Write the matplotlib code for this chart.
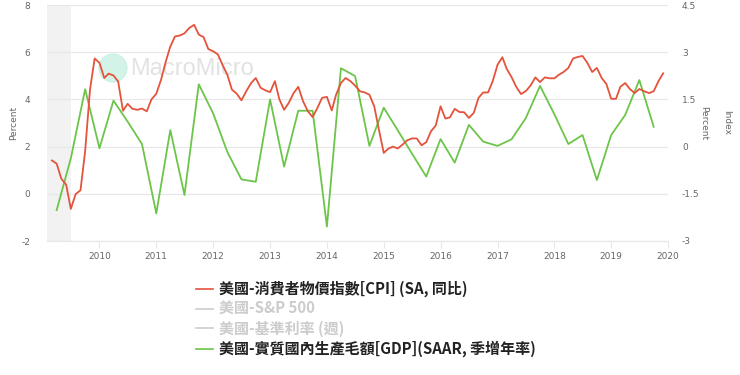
import matplotlib
matplotlib.use("Agg")
import matplotlib.pyplot as plt
import pandas as pd
from matplotlib.lines import Line2D
from matplotlib.patches import Circle

# 美國 CPI 年增率 (月, 2009-03 ~ 2019-12), 右軸
cpi = [-0.44, -0.54, -1.02, -1.21, -1.98, -1.51, -1.39, -0.15, 1.8, 2.8,
       2.66, 2.18, 2.32, 2.26, 2.07, 1.14, 1.36, 1.2, 1.17, 1.21, 1.12, 1.5,
       1.68, 2.13, 2.67, 3.18, 3.5, 3.53, 3.6, 3.77, 3.87, 3.56, 3.48, 3.1,
       3.03, 2.93, 2.6, 2.29, 1.81, 1.68, 1.47, 1.76, 2.02, 2.18, 1.87, 1.79,
       1.73, 2.08, 1.51, 1.17, 1.39, 1.7, 1.9, 1.44, 1.12, 0.94, 1.23, 1.55,
       1.58, 1.15, 1.65, 2.02, 2.18, 2.08, 1.94, 1.76, 1.72, 1.65, 1.28, 0.54,
       -0.2, -0.06, 0.0, -0.06, 0.06, 0.2, 0.26, 0.26, 0.04, 0.14, 0.49, 0.67,
       1.28, 0.89, 0.93, 1.2, 1.1, 1.09, 0.91, 1.07, 1.55, 1.72, 1.72, 2.08,
       2.6, 2.84, 2.47, 2.21, 1.9, 1.67, 1.76, 1.94, 2.2, 2.05, 2.2, 2.17,
       2.17, 2.29, 2.37, 2.5, 2.8, 2.85, 2.88, 2.66, 2.37, 2.5, 2.18, 1.99,
       1.52, 1.52, 1.9, 2.02, 1.83, 1.7, 1.83, 1.76, 1.7, 1.76, 2.08, 2.33]
cpi_dates = pd.date_range("2009-03-01", periods=len(cpi), freq="MS")

# 美國實質 GDP 季增年率 (2009Q2 ~ 2019Q4), 左軸
gdp = [-0.69, 1.5, 4.43,
       1.93, 3.95, 3.06, 2.11,
       -0.83, 2.7, -0.05, 4.64,
       3.41, 1.78, 0.61, 0.51,
       4.0, 1.15, 3.52, 3.52,
       -1.39, 5.32, 4.99, 2.03,
       3.65, 2.69, 1.71, 0.73,
       2.32, 1.32, 2.92, 2.21,
       2.03, 2.31, 3.2, 4.57,
       3.37, 2.11, 2.49, 0.58,
       2.49, 3.34, 4.82, 2.84]
gdp_dates = pd.date_range("2009-04-01", periods=len(gdp), freq="QS")

left_ticks = [-2, 0, 2, 4, 6, 8]
right_ticks = [-3, -1.5, 0, 1.5, 3, 4.5]
years = list(range(2010, 2021))

labels = ["美國-消費者物價指數[CPI] (SA, 同比)", "美國-S&P 500",
          "美國-基準利率 (週)", "美國-實質國內生產毛額[GDP](SAAR, 季增年率)"]

red = "#e4533c"
green = "#6cc54a"
grid_c = "#e8e8e8"
tick_c = "#666666"

fig = plt.figure(figsize=(7.4, 3.75), dpi=100)
ax = fig.add_axes([47 / 740, 1 - 241 / 375, (668 - 47) / 740, 236 / 375])
ax.set_facecolor("none")
ax2 = ax.twinx()

x0 = pd.Timestamp("2009-01-29")
x1 = pd.Timestamp("2020-01-01")
ax.axvspan(x0, pd.Timestamp("2009-07-01"), color="#f2f2f2", lw=0, zorder=0)

ax.plot(gdp_dates, gdp, color=green, lw=1.3, zorder=3)
ax2.plot(cpi_dates, cpi, color=red, lw=1.3, zorder=3)

ax.set_xlim(x0, x1)
ax.set_ylim(-2, 8)
ax2.set_ylim(-3, 4.5)
ax.set_yticks(left_ticks)
ax2.set_yticks(right_ticks)
ax.set_yticklabels([str(t) for t in left_ticks])
ax2.set_yticklabels(["-3", "-1.5", "0", "1.5", "3", "4.5"])
ax.set_xticks([pd.Timestamp(f"{y}-01-01") for y in years])
ax.set_xticklabels([str(y) for y in years])

ax.grid(axis="y", color=grid_c, lw=0.9)
ax.set_axisbelow(True)
for a in (ax, ax2):
    for s in ("top", "left", "right"):
        a.spines[s].set_visible(False)
    a.spines["bottom"].set_color(grid_c)
    a.tick_params(axis="y", length=0, colors=tick_c, labelsize=6.5)
ax.tick_params(axis="x", length=5, color=grid_c, colors=tick_c, labelsize=6.5, pad=3)
ax.tick_params(axis="y", pad=12)
ax2.tick_params(axis="y", pad=10)

fig.text(14 / 740, 1 - 123 / 375, "Percent", rotation=90, ha="center", va="center",
         fontsize=6.5, color=tick_c)
fig.text(704 / 740, 1 - 123 / 375, "Percent", rotation=270, ha="center", va="center",
         fontsize=6.5, color=tick_c)
fig.text(727 / 740, 1 - 123 / 375, "Index", rotation=270, ha="center", va="center",
         fontsize=6.5, color=tick_c)

# watermark, behind the lines
fig.patches.append(Circle((1.13, (375 - 68) / 100), 0.14, transform=fig.dpi_scale_trans,
                          color="#c6f0e1", alpha=0.75, zorder=-1))
fig.text(130 / 740, 1 - 69 / 375, "MacroMicro", ha="left", va="center", fontsize=17,
         color="#e2e2e2", family="Liberation Sans", zorder=-1)

handles = [Line2D([], [], color=red, lw=1.2),
           Line2D([], [], color="#cccccc", lw=1.2),
           Line2D([], [], color="#cccccc", lw=1.2),
           Line2D([], [], color=green, lw=1.2)]
leg = fig.legend(handles, labels, loc="upper left", bbox_to_anchor=(196 / 740, 1 - 281 / 375),
                 frameon=False, borderpad=0, borderaxespad=0, handlelength=1.1,
                 handletextpad=0.45, labelspacing=0.24,
                 prop={"family": ["Noto Sans CJK TC", "DejaVu Sans"], "size": 10.8, "weight": "bold"})
for t, c in zip(leg.get_texts(), ["#222222", "#cccccc", "#cccccc", "#222222"]):
    t.set_color(c)

fig.savefig("out.png", dpi=100)
